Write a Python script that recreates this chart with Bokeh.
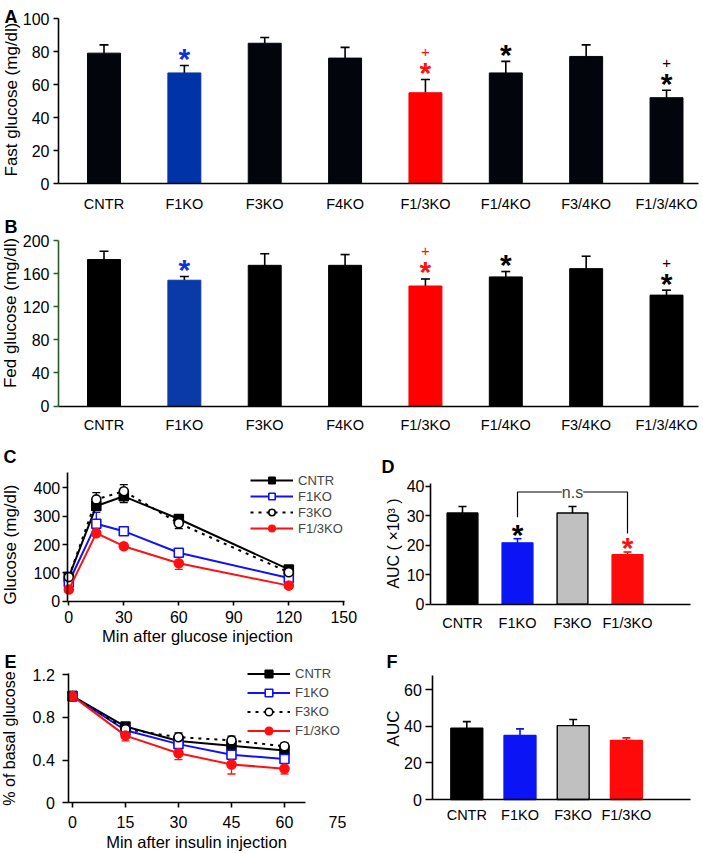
import math
from bokeh.plotting import figure
from bokeh.models import (Range1d, FixedTicker, Label, Legend, LegendItem, Whisker, TeeHead,
                          ColumnDataSource, LinearAxis)
from bokeh.layouts import column, row
from bokeh.embed import file_html
from bokeh.resources import INLINE
from bokeh.core.properties import value

FONT = "Liberation Sans"

# ------------------------------------------------------------------ data
groups8 = ["CNTR", "F1KO", "F3KO", "F4KO", "F1/3KO", "F1/4KO", "F3/4KO", "F1/3/4KO"]
fast_mean = [79, 67, 85, 76, 55, 67, 77, 52]
fast_err = [5, 4.5, 3.5, 6.5, 8, 7, 7, 4.5]
fast_colors = ["#03050d", "#0033a8", "#03050d", "#03050d", "#ff0000", "#03050d", "#03050d", "#03050d"]
fed_mean = [177, 152, 170, 170, 145, 156, 166, 134]
fed_err = [10, 4.5, 14, 13, 8.5, 6.5, 15, 6]
fed_colors = ["#000000", "#0a3aa8", "#000000", "#000000", "#ff0000", "#000000", "#000000", "#000000"]
sig_star8 = ["", "*", "", "", "*", "*", "", "*"]
sig_plus8 = ["", "", "", "", "+", "", "", "+"]
sig_color8 = ["black", "#1030d8", "black", "black", "#ff1010", "black", "black", "black"]

gtt_time = [0, 15, 30, 60, 120]
gtt_cntr = [85, 336, 370, 290, 112]
gtt_cntr_err = [10, 15, 22, 12, 8]
gtt_f1 = [67, 273, 247, 171, 82]
gtt_f1_err = [8, 40, 15, 14, 6]
gtt_f3 = [85, 359, 388, 275, 102]
gtt_f3_err = [8, 24, 23, 19, 8]
gtt_f13 = [41, 240, 194, 134, 55]
gtt_f13_err = [8, 10, 10, 22, 6]

itt_time = [0, 15, 30, 45, 60]
itt_cntr = [1.0, 0.715, 0.58, 0.535, 0.49]
itt_cntr_err = [0.02, 0.03, 0.03, 0.05, 0.03]
itt_f1 = [1.0, 0.68, 0.55, 0.45, 0.41]
itt_f1_err = [0.02, 0.03, 0.04, 0.03, 0.03]
itt_f3 = [1.0, 0.69, 0.615, 0.585, 0.53]
itt_f3_err = [0.02, 0.03, 0.04, 0.04, 0.03]
itt_f13 = [1.0, 0.63, 0.465, 0.36, 0.32]
itt_f13_err = [0.02, 0.05, 0.06, 0.09, 0.05]

groups4 = ["CNTR", "F1KO", "F3KO", "F1/3KO"]
colors4 = ["#000000", "#0a14f5", "#c0c0c0", "#ff0a0a"]
edge4 = ["#000000", "#0a14f5", "#000000", "#ff0a0a"]
auc_gtt = [30.9, 20.8, 30.9, 16.8]
auc_gtt_err = [2.2, 1.4, 2.2, 0.9]
sig_star4 = ["", "*", "", "*"]
sig_color4 = ["black", "black", "black", "#ff1010"]
ns_pair = [1, 3]
ns_levels = [29.5, 38, 24]
auc_itt = [38.9, 34.9, 40.3, 32.2]
auc_itt_err = [3.6, 3.6, 3.3, 1.4]

ticks_A = [0, 20, 40, 60, 80, 100]
ticks_B = [0, 40, 80, 120, 160, 200]
ticks_C_y = [0, 100, 200, 300, 400]
ticks_C_x = [0, 30, 60, 90, 120, 150]
ticks_D = [0, 10, 20, 30, 40]
ticks_E_y = [0, 0.4, 0.8, 1.2]
ticks_E_x = [0, 15, 30, 45, 60]
ticks_E_x_extra = [75]
ticks_F = [0, 20, 40, 60]


# ------------------------------------------------------------------ helpers
def make_fig(W, H, px0, ppx, py0, ppy, xbounds, ybounds):
    """Frame covers the whole canvas; axes are pinned inside it."""
    xr = Range1d(-px0 / ppx, (W - px0) / ppx)
    yr = Range1d(-(H - py0) / ppy, py0 / ppy)
    p = figure(width=W, height=H, x_range=xr, y_range=yr,
               output_backend="svg", toolbar_location=None, tools="",
               min_border=0, min_border_left=0, min_border_right=0,
               min_border_top=0, min_border_bottom=0)
    p.title.visible = False
    p.outline_line_color = None
    p.xgrid.visible = False
    p.ygrid.visible = False
    p.background_fill_color = "white"
    p.border_fill_color = "white"
    p.xaxis[0].fixed_location = ybounds[0]
    p.xaxis[0].bounds = xbounds
    p.yaxis[0].fixed_location = xbounds[0]
    p.yaxis[0].bounds = ybounds
    for ax in (p.xaxis[0], p.yaxis[0]):
        style_axis(ax)
    return p


def style_axis(ax):
    ax.axis_line_width = 1.6
    ax.major_tick_line_width = 1.6
    ax.major_tick_in = 0
    ax.major_tick_out = 5
    ax.minor_tick_line_color = None
    ax.major_label_text_font = FONT
    ax.major_label_text_color = "black"


def flabel(p, H, fx, fy, text, size, angle=0.0, align="center", baseline="middle",
           bold=False, color="black"):
    p.add_layout(Label(x=fx, y=H - fy, x_units="screen", y_units="screen",
                       text=text, angle=angle, text_align=align, text_baseline=baseline,
                       text_font=FONT, text_font_size=f"{size}px",
                       text_font_style="bold" if bold else "normal", text_color=color))


def cat_axis(p, cats, size, standoff):
    ax = p.xaxis[0]
    ax.ticker = FixedTicker(ticks=list(range(len(cats))))
    ax.major_label_overrides = {i: c for i, c in enumerate(cats)}
    ax.major_tick_out = 0
    ax.major_tick_line_color = None
    ax.major_label_standoff = standoff
    ax.major_label_text_font_size = f"{size}px"


def bar_errs(p, xs, tops, errs, colors, head=9):
    for x, t, e, c in zip(xs, tops, errs, colors):
        src = ColumnDataSource(dict(x=[x], lo=[t], hi=[t + e]))
        p.add_layout(Whisker(source=src, base="x", lower="lo", upper="hi", dimension="height",
                             line_color=c, line_width=1.6, lower_head=None,
                             upper_head=TeeHead(size=head, line_color=c, line_width=1.6)))


def sig_marks(p, xs, tops, errs, stars, pluses, colors, star_off, plus_off, star_size="30px"):
    src = ColumnDataSource(dict(x=xs, y=[t + e for t, e in zip(tops, errs)], s=stars,
                                pl=pluses if pluses is not None else [""] * len(xs), c=colors))
    p.text(x="x", y="y", text="s", text_color="c", source=src, y_offset=star_off,
           text_align="center", text_baseline="middle", text_font=value(FONT),
           text_font_size=star_size, text_font_style="bold")
    if pluses is not None:
        p.text(x="x", y="y", text="pl", text_color="c", source=src, y_offset=plus_off,
               text_align="center", text_baseline="middle", text_font=value(FONT),
               text_font_size="15px")


def series(p, xs, ys, errs, color, marker, fill, dash="solid"):
    r_line = p.line(xs, ys, line_color=color, line_width=2, line_dash=dash)
    src = ColumnDataSource(dict(x=xs, lo=[y - e for y, e in zip(ys, errs)],
                                hi=[y + e for y, e in zip(ys, errs)]))
    p.add_layout(Whisker(source=src, base="x", lower="lo", upper="hi", dimension="height",
                         line_color=color, line_width=1.3,
                         lower_head=TeeHead(size=8, line_color=color, line_width=1.3),
                         upper_head=TeeHead(size=8, line_color=color, line_width=1.3)))
    r_pt = p.scatter(xs, ys, marker=marker, size=9, line_color=color, fill_color=fill,
                     line_width=1.6)
    return [r_line, r_pt]


def legend(p, items, loc, gh):
    lg = Legend(items=[LegendItem(label=l, renderers=r) for l, r in items],
                location=loc, glyph_width=43, glyph_height=gh, label_height=gh,
                spacing=0, padding=0, margin=0, label_standoff=5,
                border_line_color=None, background_fill_alpha=0,
                label_text_font=FONT, label_text_font_size="13px")
    p.add_layout(lg)


# ------------------------------------------------------------------ panel A
HA = 214
pA = make_fig(702, HA, 103.5, 80.36, 183, 1.65, (-0.566, 7.398), (0, 100.3))
xs8 = list(range(len(groups8)))
pA.vbar(x=xs8, top=fast_mean, width=0.41, fill_color=fast_colors, line_color=fast_colors)
bar_errs(pA, xs8, fast_mean, fast_err, ["black"] * 8)
sig_marks(pA, xs8, fast_mean, fast_err, sig_star8, sig_plus8, sig_color8, -7, -27.5)
pA.yaxis[0].ticker = FixedTicker(ticks=ticks_A)
pA.yaxis[0].major_label_text_font_size = "16px"
pA.yaxis[0].major_label_standoff = 4
cat_axis(pA, groups8, 14.5, 12)
flabel(pA, HA, 11, 99, "Fast glucose (mg/dl)", 17, angle=math.pi / 2)
flabel(pA, HA, 4, 6, "A", 18, align="left", baseline="top", bold=True)

# ------------------------------------------------------------------ panel B
HB = 226
pB = make_fig(702, HB, 103.5, 80.36, 191.5, 0.8275, (-0.566, 7.398), (0, 200.5))
pB.vbar(x=xs8, top=fed_mean, width=0.41, fill_color=fed_colors, line_color=fed_colors)
bar_errs(pB, xs8, fed_mean, fed_err, ["black"] * 8)
sig_marks(pB, xs8, fed_mean, fed_err, sig_star8, sig_plus8, sig_color8, -7, -27.5)
pB.yaxis[0].ticker = FixedTicker(ticks=ticks_B)
pB.yaxis[0].major_label_text_font_size = "16px"
pB.yaxis[0].major_label_standoff = 4
pB.yaxis[0].axis_line_color = "#2a5a2a"
pB.yaxis[0].major_tick_line_color = "#2a5a2a"
cat_axis(pB, groups8, 14.5, 11)
flabel(pB, HB, 10, 98.5, "Fed glucose (mg/dl)", 17, angle=math.pi / 2)
flabel(pB, HB, 4, 2, "B", 18, align="left", baseline="top", bold=True)

# ------------------------------------------------------------------ panel C
HC = 206
pC = make_fig(375, HC, 68.3, 1.8333, 160.7, 0.2835, (-0.87, 150.2), (0, 455))
rC = [("CNTR", series(pC, gtt_time, gtt_cntr, gtt_cntr_err, "black", "square", "black")),
      ("F1KO", series(pC, gtt_time, gtt_f1, gtt_f1_err, "#1010ff", "square", "white")),
      ("F3KO", series(pC, gtt_time, gtt_f3, gtt_f3_err, "black", "circle", "white", "3 5")),
      ("F1/3KO", series(pC, gtt_time, gtt_f13, gtt_f13_err, "#ff1010", "circle", "#ff1010"))]
legend(pC, rC, (250, 110), 16)
pC.xaxis[0].ticker = FixedTicker(ticks=ticks_C_x)
pC.yaxis[0].ticker = FixedTicker(ticks=ticks_C_y)
pC.xaxis[0].major_tick_out = 4
pC.xaxis[0].major_label_standoff = 6
pC.yaxis[0].major_label_standoff = 2
for ax in (pC.xaxis[0], pC.yaxis[0]):
    ax.major_label_text_font_size = "16px"
flabel(pC, HC, 10, 104, "Glucose (mg/dl)", 17, angle=math.pi / 2)
flabel(pC, HC, 197, 195, "Min after glucose injection", 16.5)
flabel(pC, HC, 3, 6, "C", 18, align="left", baseline="top", bold=True)

# ------------------------------------------------------------------ panel D
HD = 206
pD = make_fig(327, HD, 87, 55, 163.8, 2.955, (-0.582, 4.145), (0, 40.9))
xs4 = list(range(len(groups4)))
pD.vbar(x=xs4, top=auc_gtt, width=0.56, fill_color=colors4, line_color=edge4, line_width=1.4)
bar_errs(pD, xs4, auc_gtt, auc_gtt_err, edge4, head=8)
sig_marks(pD, xs4, auc_gtt, auc_gtt_err, sig_star4, None, sig_color4, -4.5, 0)
pD.line([ns_pair[0], ns_pair[0], ns_pair[1], ns_pair[1]],
        [ns_levels[0], ns_levels[1], ns_levels[1], ns_levels[2]], line_color="black", line_width=1.2)
pD.add_layout(Label(x=sum(ns_pair) / 2, y=ns_levels[1], text="n.s", text_align="center",
                    text_baseline="middle", text_font=FONT, text_font_size="16px",
                    background_fill_color="white"))
pD.yaxis[0].ticker = FixedTicker(ticks=ticks_D)
pD.yaxis[0].major_label_text_font_size = "16px"
pD.yaxis[0].major_label_standoff = 1
cat_axis(pD, groups4, 14.5, 11)
flabel(pD, HD, 18, 103, "AUC ( \u00d710\u00b3 )", 16, angle=math.pi / 2)
flabel(pD, HD, 6, 16, "D", 18, align="left", baseline="top", bold=True)

# ------------------------------------------------------------------ panel E
HE = 206
pE = make_fig(375, HE, 72, 3.533, 156.3, 106.67, (-1.05, 65.9), (0, 1.215))
rE = [("CNTR", series(pE, itt_time, itt_cntr, itt_cntr_err, "black", "square", "black")),
      ("F1KO", series(pE, itt_time, itt_f1, itt_f1_err, "#1010ff", "square", "white")),
      ("F3KO", series(pE, itt_time, itt_f3, itt_f3_err, "black", "circle", "white", "3 5")),
      ("F1/3KO", series(pE, itt_time, itt_f13, itt_f13_err, "#ff1010", "circle", "#ff1010"))]
legend(pE, rE, (247, 112), 19)
pE.xaxis[0].ticker = FixedTicker(ticks=ticks_E_x)
pE.yaxis[0].ticker = FixedTicker(ticks=ticks_E_y)
pE.yaxis[0].major_label_overrides = {0: "0"}
pE.xaxis[0].major_tick_out = 5
pE.xaxis[0].major_label_standoff = 8
pE.yaxis[0].major_tick_out = 6
pE.yaxis[0].major_label_standoff = 8
for ax in (pE.xaxis[0], pE.yaxis[0]):
    ax.major_label_text_font_size = "16px"
extra = LinearAxis(fixed_location=0, bounds=(60, 76), ticker=FixedTicker(ticks=ticks_E_x_extra))
style_axis(extra)
extra.axis_line_color = None
extra.major_tick_line_color = None
extra.major_label_standoff = 8
extra.major_label_text_font_size = "16px"
pE.add_layout(extra, "below")
flabel(pE, HE, 9, 92, "% of basal glucose", 16, angle=math.pi / 2)
flabel(pE, HE, 196, 195, "Min after insulin injection", 16.5)
flabel(pE, HE, 4, 5, "E", 18, align="left", baseline="top", bold=True)

# ------------------------------------------------------------------ panel F
HF = 206
pF = make_fig(327, HF, 91.3, 53.2, 153, 1.8333, (-0.639, 4.205), (0, 67.6))
pF.vbar(x=xs4, top=auc_itt, width=0.6, fill_color=colors4, line_color=edge4, line_width=1.4)
bar_errs(pF, xs4, auc_itt, auc_itt_err, edge4, head=8)
pF.yaxis[0].ticker = FixedTicker(ticks=ticks_F)
pF.yaxis[0].major_label_text_font_size = "16px"
pF.yaxis[0].major_tick_out = 7
pF.yaxis[0].major_label_standoff = 4
cat_axis(pF, groups4, 14.5, 7)
flabel(pF, HF, 17.5, 82, "AUC", 17, angle=math.pi / 2)
flabel(pF, HF, 11, 5, "F", 18, align="left", baseline="top", bold=True)

layout = column(pA, pB, row(pC, pD), row(pE, pF))
open("out.html", "w").write(file_html(layout, INLINE))
